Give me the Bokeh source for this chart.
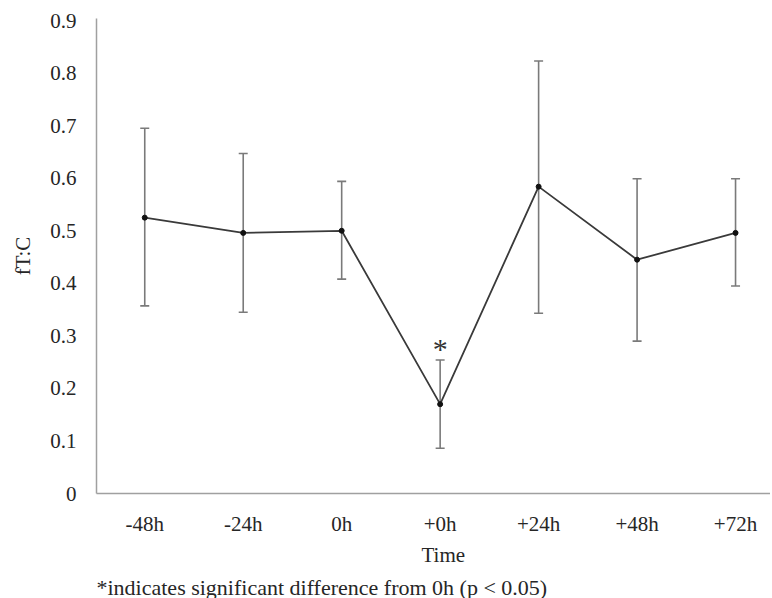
from bokeh.plotting import figure
from bokeh.models import ColumnDataSource, Whisker, TeeHead, FixedTicker, Range1d, Title
from bokeh.core.properties import value
from bokeh.embed import file_html
from bokeh.resources import INLINE

categories = ["-48h", "-24h", "0h", "+0h", "+24h", "+48h", "+72h"]
means = [0.525, 0.496, 0.500, 0.170, 0.584, 0.445, 0.496]
upper = [0.695, 0.647, 0.594, 0.254, 0.823, 0.599, 0.599]
lower = [0.357, 0.345, 0.408, 0.086, 0.343, 0.290, 0.395]
y_ticks = [0, 0.1, 0.2, 0.3, 0.4, 0.5, 0.6, 0.7, 0.8, 0.9]
y_tick_labels = ["0", "0.1", "0.2", "0.3", "0.4", "0.5", "0.6", "0.7", "0.8", "0.9"]
significant = [3]
x_title = "Time"
footnote = "*indicates significant difference from 0h (p < 0.05)"

FONT = "Liberation Serif"
TXT = "#262626"
xs = list(range(len(categories)))
src = ColumnDataSource(dict(x=xs, mean=means, upper=upper, lower=lower))

p = figure(width=770, height=603, output_backend="svg", toolbar_location=None,
           x_range=Range1d(-0.49, 6.355), y_range=Range1d(0, 0.904),
           min_border_left=96, min_border_right=0, min_border_top=18, min_border_bottom=105)
p.outline_line_color = None
p.grid.visible = False

w = Whisker(base="x", upper="upper", lower="lower", source=src,
            line_color="#7a7a7a", line_width=1.6,
            upper_head=TeeHead(size=9, line_color="#7a7a7a", line_width=1.6),
            lower_head=TeeHead(size=9, line_color="#7a7a7a", line_width=1.6))
p.add_layout(w)
p.line("x", "mean", source=src, line_color="#3a3a3a", line_width=1.8)
p.scatter("x", "mean", source=src, size=5, color="#111111")

sig_src = ColumnDataSource(dict(x=[xs[i] for i in significant], y=[upper[i] for i in significant], t=["*"] * len(significant)))
p.text("x", "y", text="t", source=sig_src, text_font=value(FONT), text_font_size="30px",
       text_align="center", text_baseline="alphabetic", y_offset=-12, text_color="#333333")

for ax in (p.xaxis[0], p.yaxis[0]):
    ax.axis_line_color = "#a0a0a0"
    ax.axis_line_width = 1.5
    ax.major_tick_line_color = None
    ax.minor_tick_line_color = None
    ax.major_label_text_font = FONT
    ax.major_label_text_font_size = "21px"
    ax.major_label_text_color = TXT

p.xaxis.major_label_standoff = 12
p.yaxis.major_label_standoff = 14
p.xaxis.ticker = FixedTicker(ticks=xs)
p.xaxis.major_label_overrides = {i: c for i, c in zip(xs, categories)}
p.yaxis.ticker = FixedTicker(ticks=y_ticks)
p.yaxis.major_label_overrides = {t: l for t, l in zip(y_ticks, y_tick_labels)}

p.yaxis.axis_label = "fT:C"
p.yaxis.axis_label_text_font = FONT
p.yaxis.axis_label_text_font_size = "21px"
p.yaxis.axis_label_text_font_style = "normal"
p.yaxis.axis_label_text_color = TXT
p.yaxis.axis_label_standoff = 12

t1 = Title(text=x_title, align="left", offset=325, standoff=4,
           text_font=FONT, text_font_size="21px", text_font_style="normal", text_color=TXT)
t2 = Title(text=footnote, align="left", offset=0, standoff=8,
           text_font=FONT, text_font_size="22px", text_font_style="normal", text_color=TXT)
p.add_layout(t1, "below")
p.add_layout(t2, "below")

open("out.html", "w").write(file_html(p, INLINE))
